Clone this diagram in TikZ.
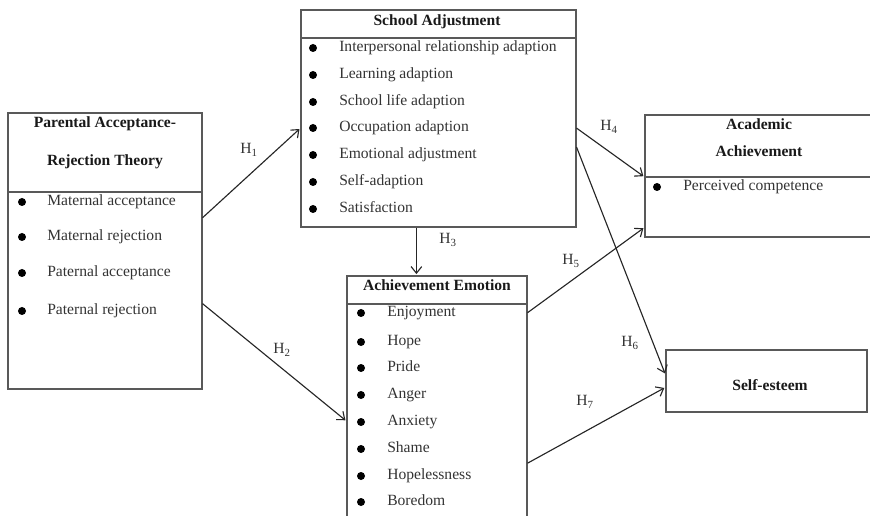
\documentclass[tikz,border=0pt]{standalone}
\usepackage{fontspec}
\setmainfont{Liberation Serif}
\usetikzlibrary{arrows.meta,calc,fit}

\begin{document}
\begin{tikzpicture}[x=0.75pt,y=-0.75pt,
  every node/.style={font=\fontsize{11.7}{14}\selectfont,text=black!80},
  box/.style={draw=black!65,line width=0.8pt,inner sep=0pt},
  ttl/.style={font=\fontsize{11.7}{14}\selectfont\bfseries,text=black!90,text height=8pt,text depth=2.5pt},
  itm/.style={anchor=west,inner sep=0pt,text height=8pt,text depth=2.5pt},
  dot/.style={circle,fill=black,inner sep=0pt,minimum size=6pt},
  hlab/.style={inner sep=0pt},
  arr/.style={-{Straight Barb[length=5pt,width=8pt]},draw=black!85,line width=0.85pt,shorten >=1pt}]
  \clip (0,0) rectangle (870,516);

  % boxes
  \node[box,fit={(8,113) (202,389)}] (parent) {};
  \node[box,fit={(301,10) (576,227)}] (school) {};
  \node[box,fit={(347,276) (527,530)}] (emotion) {};
  \node[box,fit={(645,115) (873,237)}] (academic) {};
  \node[box,fit={(666,350) (867,412)}] (esteem) {};
  \draw[draw=black!65,line width=0.8pt] (parent.west |- 0,192) -- (parent.east |- 0,192);
  \draw[draw=black!65,line width=0.8pt] (school.west |- 0,38) -- (school.east |- 0,38);
  \draw[draw=black!65,line width=0.8pt] (emotion.west |- 0,304) -- (emotion.east |- 0,304);
  \draw[draw=black!65,line width=0.8pt] (academic.west |- 0,177) -- (academic.east |- 0,177);

  % parental acceptance-rejection
  \node[ttl] (pt1) at (105,124) {Parental Acceptance-};
  \node[ttl] (pt2) at (105,162) {Rejection Theory};
  \node[dot] (pd1) at (22,202) {}; \node[itm] (pa1) at (47,202) {Maternal acceptance};
  \node[dot] (pd2) at (22,237) {}; \node[itm] (pa2) at (47,237) {Maternal rejection};
  \node[dot] (pd3) at (22,273) {}; \node[itm] (pa3) at (47,273) {Paternal acceptance};
  \node[dot] (pd4) at (22,311) {}; \node[itm] (pa4) at (47,311) {Paternal rejection};

  % school adjustment
  \node[ttl] (st) at (437,22) {School Adjustment};
  \node[dot] (sd1) at (313,48) {}; \node[itm] (sa1) at (339,48) {Interpersonal relationship adaption};
  \node[dot] (sd2) at (313,75) {}; \node[itm] (sa2) at (339,75) {Learning adaption};
  \node[dot] (sd3) at (313,102) {}; \node[itm] (sa3) at (339,102) {School life adaption};
  \node[dot] (sd4) at (313,128) {}; \node[itm] (sa4) at (339,128) {Occupation adaption};
  \node[dot] (sd5) at (313,155) {}; \node[itm] (sa5) at (339,155) {Emotional adjustment};
  \node[dot] (sd6) at (313,182) {}; \node[itm] (sa6) at (339,182) {Self-adaption};
  \node[dot] (sd7) at (313,209) {}; \node[itm] (sa7) at (339,209) {Satisfaction};

  % achievement emotion
  \node[ttl] (et) at (437,287) {Achievement Emotion};
  \node[dot] (ed1) at (361,313) {}; \node[itm] (ae1) at (387,313) {Enjoyment};
  \node[dot] (ed2) at (361,342) {}; \node[itm] (ae2) at (387,342) {Hope};
  \node[dot] (ed3) at (361,368) {}; \node[itm] (ae3) at (387,368) {Pride};
  \node[dot] (ed4) at (361,395) {}; \node[itm] (ae4) at (387,395) {Anger};
  \node[dot] (ed5) at (361,422) {}; \node[itm] (ae5) at (387,422) {Anxiety};
  \node[dot] (ed6) at (361,449) {}; \node[itm] (ae6) at (387,449) {Shame};
  \node[dot] (ed7) at (361,476) {}; \node[itm] (ae7) at (387,476) {Hopelessness};
  \node[dot] (ed8) at (361,502) {}; \node[itm] (ae8) at (387,502) {Boredom};

  % outcomes
  \node[ttl] (at1) at (759,126) {Academic};
  \node[ttl] (at2) at (759,153) {Achievement};
  \node[dot] (ad1) at (657,187) {}; \node[itm] (ac1) at (683,187) {Perceived competence};
  \node[ttl] (se) at (770,387) {Self-esteem};

  % hypotheses
  \draw[arr] ($(parent.north east)!0.38!(parent.south east)$) -- ($(school.north west)!0.544!(school.south west)$);
  \draw[arr] ($(parent.north east)!0.69!(parent.south east)$) -- ($(emotion.north west)!0.571!(emotion.south west)$);
  \draw[arr] ($(school.south west)!0.42!(school.south east)$) coordinate (h3s) -- (h3s |- emotion.north);
  \draw[arr] ($(school.north east)!0.544!(school.south east)$) -- ($(academic.north west)!0.508!(academic.south west)$);
  \draw[arr] ($(emotion.north east)!0.146!(emotion.south east)$) -- ($(academic.north west)!0.918!(academic.south west)$);
  \draw[arr] ($(school.north east)!0.631!(school.south east)$) -- ($(esteem.north west)!0.40!(esteem.south west)$);
  \draw[arr] ($(emotion.north east)!0.736!(emotion.south east)$) -- ($(esteem.north west)!0.60!(esteem.south west)$);
  \node[hlab] (h1) at (249,150) {H\textsubscript{1}};
  \node[hlab] (h2) at (282,350) {H\textsubscript{2}};
  \node[hlab] (h3) at (448,240) {H\textsubscript{3}};
  \node[hlab] (h4) at (609,127) {H\textsubscript{4}};
  \node[hlab] (h5) at (571,261) {H\textsubscript{5}};
  \node[hlab] (h6) at (630,343) {H\textsubscript{6}};
  \node[hlab] (h7) at (585,402) {H\textsubscript{7}};
\end{tikzpicture}
\end{document}
